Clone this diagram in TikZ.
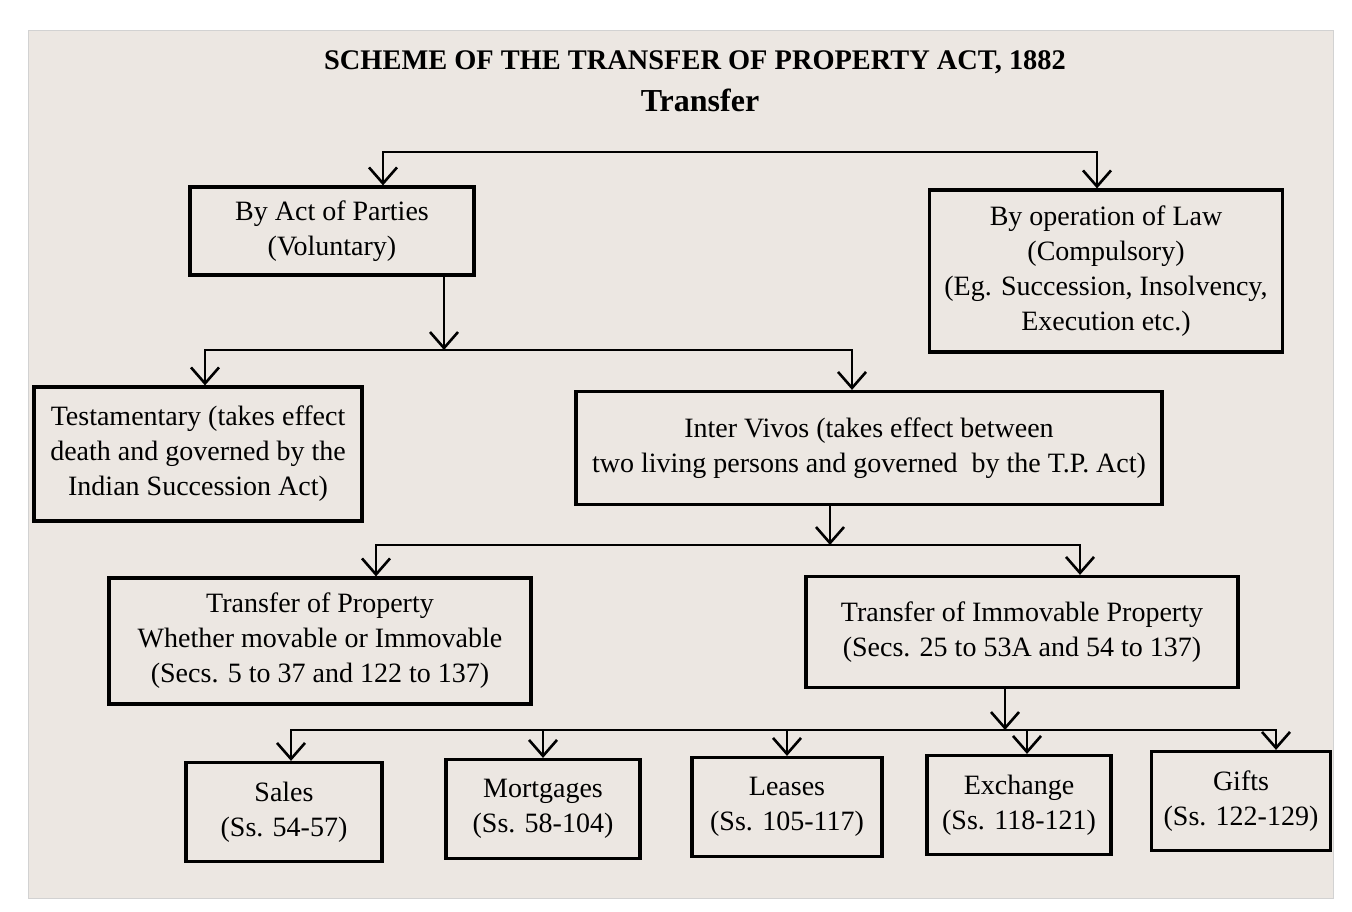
\documentclass[tikz,border=0pt]{standalone}
\usepackage{fontspec}
\setmainfont{Liberation Serif}
\usetikzlibrary{arrows.meta, positioning}
\definecolor{pagebg}{RGB}{236,231,226}
\tikzset{
    box/.style={draw, line width=1.6pt, align=center, inner sep=2pt, font=\fontsize{14}{17.5}\selectfont},
    arr/.style={line width=1.3pt, -{Straight Barb[length=8pt, width=14pt]}},
    bus/.style={line width=1.3pt}
}

\begin{document}
\begin{tikzpicture}[x=0.5pt, y=-0.5pt]
    \useasboundingbox (0, 0) rectangle (1352, 911);
    \fill[white] (0, 0) rectangle (1352, 911);
    \draw[gray!35, fill=pagebg] (28, 30) rectangle (1333, 898);

    \node[font=\bfseries\fontsize{14.2}{16}\selectfont] (title) at (695, 62) {SCHEME OF THE TRANSFER OF PROPERTY ACT, 1882};
    \node[font=\bfseries\fontsize{16}{18}\selectfont] (sub) at (700, 100) {Transfer};

    % first level
    \node[box, minimum width=142pt, minimum height=44pt] (act) at (332, 231) {By Act of Parties\\(Voluntary)};
    \node[box, minimum width=176.5pt, minimum height=81pt] (law) at (1106, 271) {By operation of Law\\(Compulsory)\\(Eg. Succession, Insolvency,\\Execution etc.)};

    % second level
    \node[box, minimum width=164pt, minimum height=67pt] (test) at (198, 454) {Testamentary (takes effect\\death and governed by the\\Indian Succession Act)};
    \node[box, minimum width=293pt, minimum height=56.5pt] (vivos) at (869, 448) {Inter Vivos (takes effect between\\two living persons and governed~~by the T.P. Act)};

    % third level
    \node[box, minimum width=211pt, minimum height=63pt] (prop) at (320, 641) {Transfer of Property\\Whether movable or Immovable\\(Secs. 5 to 37 and 122 to 137)};
    \node[box, minimum width=216pt, minimum height=55.5pt] (immov) at (1022, 632) {Transfer of Immovable Property\\(Secs. 25 to 53A and 54 to 137)};

    % kinds of transfer
    \node[box, minimum width=98pt, minimum height=49.5pt] (sales) at (284, 812) {Sales\\(Ss. 54-57)};
    \node[box, minimum width=97pt, minimum height=49.5pt] (mort) at (543, 809) {Mortgages\\(Ss. 58-104)};
    \node[box, minimum width=95pt, minimum height=49.5pt] (lease) at (787, 807) {Leases\\(Ss. 105-117)};
    \node[box, minimum width=92pt, minimum height=49.5pt] (exch) at (1019, 805) {Exchange\\(Ss. 118-121)};
    \node[box, minimum width=89.5pt, minimum height=49.5pt] (gift) at (1241, 801) {Gifts\\(Ss. 122-129)};

    % bus lines
    \coordinate (hub1) at (700, 152);
    \coordinate (hub2) at (444, 350);
    \coordinate (hub3) at (830, 545);
    \coordinate (hub4) at (1005, 730);

    \draw[arr] (hub1) -| (act.north -| 383, 0);
    \draw[arr] (hub1) -| (law.north -| 1097, 0);

    \draw[arr] (act.south -| hub2) -- (hub2);
    \draw[arr] (hub2) -| (test.north -| 205, 0);
    \draw[arr] (hub2) -| (vivos.north -| 852, 0);

    \draw[arr] (vivos.south -| hub3) -- (hub3);
    \draw[arr] (hub3) -| (prop.north -| 376, 0);
    \draw[arr] (hub3) -| (immov.north -| 1080, 0);

    \draw[arr] (immov.south -| hub4) -- (hub4);
    \draw[arr] (hub4) -| (sales.north -| 291, 0);
    \draw[arr] (hub4) -| (mort.north -| 543, 0);
    \draw[arr] (hub4) -| (lease.north -| 787, 0);
    \draw[arr] (hub4) -| (exch.north -| 1027, 0);
    \draw[arr] (hub4) -| (gift.north -| 1276, 0);
\end{tikzpicture}
\end{document}
